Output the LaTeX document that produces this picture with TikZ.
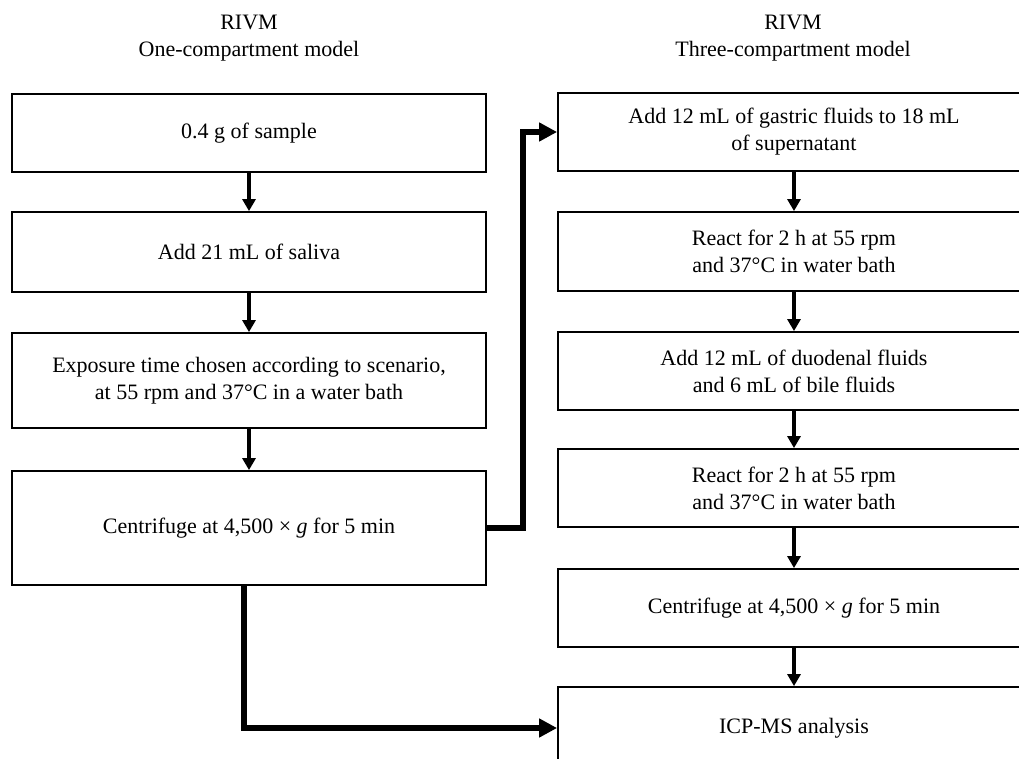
\documentclass[tikz,border=0pt]{standalone}
\usepackage{fontspec}
\setmainfont{Liberation Serif}
\usetikzlibrary{arrows.meta}
\begin{document}
\begin{tikzpicture}[x=1bp,y=-1bp,
  box/.style={draw=black, line width=1.8bp, rectangle, align=center,
    font=\fontsize{22bp}{27bp}\selectfont, inner sep=0pt},
  lbox/.style={box, minimum width=474bp},
  rbox/.style={box, minimum width=472bp},
  head/.style={font=\fontsize{22bp}{27bp}\selectfont, anchor=base, inner sep=0pt},
  flow/.style={line width=4bp, -{Triangle[length=12bp,width=13bp]}},
  bigflow/.style={line width=5.5bp, -{Triangle[length=18bp,width=18bp]}}
]
\clip (0,0) rectangle (1019,759);
\fill[white] (0,0) rectangle (1019,759);
% headers
\node[head] (h1a) at (249,30) {RIVM};
\node[head] (h1b) at (249,57) {One-compartment model};
\node[head] (h2a) at (793,30) {RIVM};
\node[head] (h2b) at (793,57) {Three-compartment model};
% left column
\node[lbox, minimum height=78bp] (l1) at (249,133) {0.4 g of sample};
\node[lbox, minimum height=80bp] (l2) at (249,252) {Add 21 mL of saliva};
\node[lbox, minimum height=95bp] (l3) at (249,380.5) {Exposure time chosen according to scenario,\\at 55 rpm and 37°C in a water bath};
\node[lbox, minimum height=114bp] (l4) at (249,528) {Centrifuge at 4,500 × \textit{g} for 5 min};
% right column
\node[rbox, minimum height=78bp] (r1) at (794,132) {Add 12 mL of gastric fluids to 18 mL\\of supernatant};
\node[rbox, minimum height=79bp] (r2) at (794,251.5) {React for 2 h at 55 rpm\\and 37°C in water bath};
\node[rbox, minimum height=78bp] (r3) at (794,371) {Add 12 mL of duodenal fluids\\and 6 mL of bile fluids};
\node[rbox, minimum height=78bp] (r4) at (794,488) {React for 2 h at 55 rpm\\and 37°C in water bath};
\node[rbox, minimum height=78bp] (r5) at (794,608) {Centrifuge at 4,500 × \textit{g} for 5 min};
\node[rbox, minimum height=82bp] (r6) at (794,728) {ICP-MS analysis};
% vertical arrows
\draw[flow] (l1) -- (l2);
\draw[flow] (l2) -- (l3);
\draw[flow] (l3) -- (l4);
\draw[flow] (r1) -- (r2);
\draw[flow] (r2) -- (r3);
\draw[flow] (r3) -- (r4);
\draw[flow] (r4) -- (r5);
\draw[flow] (r5) -- (r6);
% connectors
\draw[bigflow] (l4.east) -- ++(36,0) |- (r1.west);
\draw[bigflow] ([xshift=-5bp]l4.south) |- (r6.west);
\end{tikzpicture}
\end{document}
